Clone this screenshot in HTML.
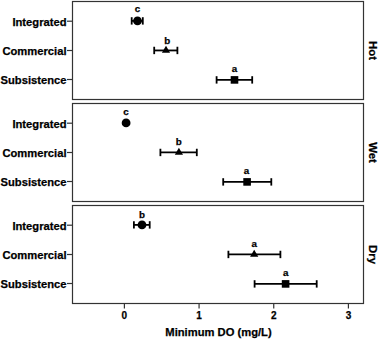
<!DOCTYPE html><html><head><meta charset="utf-8"><style>html,body{margin:0;padding:0;background:#fff;width:378px;height:339px;overflow:hidden;position:relative}</style></head><body>
<svg width="378" height="339" viewBox="0 0 378 339" style="position:absolute;left:0;top:0">
<rect x="72.5" y="1.5" width="291.0" height="98.0" fill="none" stroke="#333" stroke-width="1.2"/>
<line x1="67" y1="21.2" x2="72.5" y2="21.2" stroke="#333" stroke-width="1.2"/>
<text x="66.5" y="25.5" text-anchor="end" font-size="11.2" font-family="Liberation Sans, sans-serif" font-weight="bold" stroke="#000" stroke-width="0.25" fill="#000">Integrated</text>
<line x1="67" y1="50.5" x2="72.5" y2="50.5" stroke="#333" stroke-width="1.2"/>
<text x="66.5" y="54.8" text-anchor="end" font-size="11.2" font-family="Liberation Sans, sans-serif" font-weight="bold" stroke="#000" stroke-width="0.25" fill="#000">Commercial</text>
<line x1="67" y1="79.5" x2="72.5" y2="79.5" stroke="#333" stroke-width="1.2"/>
<text x="66.5" y="83.8" text-anchor="end" font-size="11.2" font-family="Liberation Sans, sans-serif" font-weight="bold" stroke="#000" stroke-width="0.25" fill="#000">Subsistence</text>
<text transform="translate(368.6 50.5) rotate(90)" x="0" y="0" text-anchor="middle" font-size="11.4" font-family="Liberation Sans, sans-serif" font-weight="bold" stroke="#000" stroke-width="0.25" fill="#000">Hot</text>
<rect x="72.5" y="103.5" width="291.0" height="98.0" fill="none" stroke="#333" stroke-width="1.2"/>
<line x1="67" y1="123.2" x2="72.5" y2="123.2" stroke="#333" stroke-width="1.2"/>
<text x="66.5" y="127.5" text-anchor="end" font-size="11.2" font-family="Liberation Sans, sans-serif" font-weight="bold" stroke="#000" stroke-width="0.25" fill="#000">Integrated</text>
<line x1="67" y1="152.5" x2="72.5" y2="152.5" stroke="#333" stroke-width="1.2"/>
<text x="66.5" y="156.8" text-anchor="end" font-size="11.2" font-family="Liberation Sans, sans-serif" font-weight="bold" stroke="#000" stroke-width="0.25" fill="#000">Commercial</text>
<line x1="67" y1="181.5" x2="72.5" y2="181.5" stroke="#333" stroke-width="1.2"/>
<text x="66.5" y="185.8" text-anchor="end" font-size="11.2" font-family="Liberation Sans, sans-serif" font-weight="bold" stroke="#000" stroke-width="0.25" fill="#000">Subsistence</text>
<text transform="translate(368.6 152.5) rotate(90)" x="0" y="0" text-anchor="middle" font-size="11.4" font-family="Liberation Sans, sans-serif" font-weight="bold" stroke="#000" stroke-width="0.25" fill="#000">Wet</text>
<rect x="72.5" y="205.5" width="291.0" height="98.0" fill="none" stroke="#333" stroke-width="1.2"/>
<line x1="67" y1="225.2" x2="72.5" y2="225.2" stroke="#333" stroke-width="1.2"/>
<text x="66.5" y="229.5" text-anchor="end" font-size="11.2" font-family="Liberation Sans, sans-serif" font-weight="bold" stroke="#000" stroke-width="0.25" fill="#000">Integrated</text>
<line x1="67" y1="254.5" x2="72.5" y2="254.5" stroke="#333" stroke-width="1.2"/>
<text x="66.5" y="258.8" text-anchor="end" font-size="11.2" font-family="Liberation Sans, sans-serif" font-weight="bold" stroke="#000" stroke-width="0.25" fill="#000">Commercial</text>
<line x1="67" y1="283.5" x2="72.5" y2="283.5" stroke="#333" stroke-width="1.2"/>
<text x="66.5" y="287.8" text-anchor="end" font-size="11.2" font-family="Liberation Sans, sans-serif" font-weight="bold" stroke="#000" stroke-width="0.25" fill="#000">Subsistence</text>
<text transform="translate(368.6 254.5) rotate(90)" x="0" y="0" text-anchor="middle" font-size="11.4" font-family="Liberation Sans, sans-serif" font-weight="bold" stroke="#000" stroke-width="0.25" fill="#000">Dry</text>
<line x1="131.7" y1="20.9" x2="142.8" y2="20.9" stroke="#000" stroke-width="1.8"/>
<line x1="131.7" y1="17.2" x2="131.7" y2="24.599999999999998" stroke="#000" stroke-width="1.8"/>
<line x1="142.8" y1="17.2" x2="142.8" y2="24.599999999999998" stroke="#000" stroke-width="1.8"/>
<circle cx="137.5" cy="20.9" r="4.4" fill="#000"/>
<text x="137.5" y="12.200000000000001" text-anchor="middle" font-size="9.8" font-family="Liberation Sans, sans-serif" font-weight="bold" stroke="#000" stroke-width="0.25" fill="#000">c</text>
<line x1="154.2" y1="50.45" x2="177.4" y2="50.45" stroke="#000" stroke-width="1.8"/>
<line x1="154.2" y1="46.75" x2="154.2" y2="54.150000000000006" stroke="#000" stroke-width="1.8"/>
<line x1="177.4" y1="46.75" x2="177.4" y2="54.150000000000006" stroke="#000" stroke-width="1.8"/>
<polygon points="161.9,52.75 170.1,52.75 166.0,45.85" fill="#000"/>
<text x="167.2" y="43.599999999999994" text-anchor="middle" font-size="9.8" font-family="Liberation Sans, sans-serif" font-weight="bold" stroke="#000" stroke-width="0.25" fill="#000">b</text>
<line x1="216.6" y1="79.9" x2="252.2" y2="79.9" stroke="#000" stroke-width="1.8"/>
<line x1="216.6" y1="76.2" x2="216.6" y2="83.60000000000001" stroke="#000" stroke-width="1.8"/>
<line x1="252.2" y1="76.2" x2="252.2" y2="83.60000000000001" stroke="#000" stroke-width="1.8"/>
<rect x="230.7" y="76.10000000000001" width="7.6" height="7.6" fill="#000"/>
<text x="234.6" y="71.6" text-anchor="middle" font-size="9.8" font-family="Liberation Sans, sans-serif" font-weight="bold" stroke="#000" stroke-width="0.25" fill="#000">a</text>
<circle cx="126.1" cy="122.9" r="4.4" fill="#000"/>
<text x="125.9" y="114.89999999999999" text-anchor="middle" font-size="9.8" font-family="Liberation Sans, sans-serif" font-weight="bold" stroke="#000" stroke-width="0.25" fill="#000">c</text>
<line x1="160.4" y1="152.45" x2="196.8" y2="152.45" stroke="#000" stroke-width="1.8"/>
<line x1="160.4" y1="148.75" x2="160.4" y2="156.14999999999998" stroke="#000" stroke-width="1.8"/>
<line x1="196.8" y1="148.75" x2="196.8" y2="156.14999999999998" stroke="#000" stroke-width="1.8"/>
<polygon points="174.8,154.75 183.0,154.75 178.9,147.85" fill="#000"/>
<text x="178.8" y="144.60000000000002" text-anchor="middle" font-size="9.8" font-family="Liberation Sans, sans-serif" font-weight="bold" stroke="#000" stroke-width="0.25" fill="#000">b</text>
<line x1="223.2" y1="181.9" x2="271.3" y2="181.9" stroke="#000" stroke-width="1.8"/>
<line x1="223.2" y1="178.20000000000002" x2="223.2" y2="185.6" stroke="#000" stroke-width="1.8"/>
<line x1="271.3" y1="178.20000000000002" x2="271.3" y2="185.6" stroke="#000" stroke-width="1.8"/>
<rect x="243.29999999999998" y="178.1" width="7.6" height="7.6" fill="#000"/>
<text x="246.5" y="174.20000000000002" text-anchor="middle" font-size="9.8" font-family="Liberation Sans, sans-serif" font-weight="bold" stroke="#000" stroke-width="0.25" fill="#000">a</text>
<line x1="133.9" y1="224.9" x2="149.7" y2="224.9" stroke="#000" stroke-width="1.8"/>
<line x1="133.9" y1="221.20000000000002" x2="133.9" y2="228.6" stroke="#000" stroke-width="1.8"/>
<line x1="149.7" y1="221.20000000000002" x2="149.7" y2="228.6" stroke="#000" stroke-width="1.8"/>
<circle cx="142.0" cy="224.9" r="4.4" fill="#000"/>
<text x="142.0" y="218.0" text-anchor="middle" font-size="9.8" font-family="Liberation Sans, sans-serif" font-weight="bold" stroke="#000" stroke-width="0.25" fill="#000">b</text>
<line x1="228.4" y1="254.45" x2="280.4" y2="254.45" stroke="#000" stroke-width="1.8"/>
<line x1="228.4" y1="250.75" x2="228.4" y2="258.15" stroke="#000" stroke-width="1.8"/>
<line x1="280.4" y1="250.75" x2="280.4" y2="258.15" stroke="#000" stroke-width="1.8"/>
<polygon points="250.1,256.75 258.3,256.75 254.2,249.85" fill="#000"/>
<text x="254.2" y="246.60000000000002" text-anchor="middle" font-size="9.8" font-family="Liberation Sans, sans-serif" font-weight="bold" stroke="#000" stroke-width="0.25" fill="#000">a</text>
<line x1="254.6" y1="283.9" x2="316.7" y2="283.9" stroke="#000" stroke-width="1.8"/>
<line x1="254.6" y1="280.2" x2="254.6" y2="287.59999999999997" stroke="#000" stroke-width="1.8"/>
<line x1="316.7" y1="280.2" x2="316.7" y2="287.59999999999997" stroke="#000" stroke-width="1.8"/>
<rect x="281.8" y="280.09999999999997" width="7.6" height="7.6" fill="#000"/>
<text x="285.8" y="275.6" text-anchor="middle" font-size="9.8" font-family="Liberation Sans, sans-serif" font-weight="bold" stroke="#000" stroke-width="0.25" fill="#000">a</text>
<line x1="124.4" y1="303.5" x2="124.4" y2="308.5" stroke="#333" stroke-width="1.2"/>
<text x="124.4" y="318.8" text-anchor="middle" font-size="10" font-family="Liberation Sans, sans-serif" font-weight="bold" stroke="#000" stroke-width="0.25" fill="#000">0</text>
<line x1="199.07" y1="303.5" x2="199.07" y2="308.5" stroke="#333" stroke-width="1.2"/>
<text x="199.07" y="318.8" text-anchor="middle" font-size="10" font-family="Liberation Sans, sans-serif" font-weight="bold" stroke="#000" stroke-width="0.25" fill="#000">1</text>
<line x1="273.74" y1="303.5" x2="273.74" y2="308.5" stroke="#333" stroke-width="1.2"/>
<text x="273.74" y="318.8" text-anchor="middle" font-size="10" font-family="Liberation Sans, sans-serif" font-weight="bold" stroke="#000" stroke-width="0.25" fill="#000">2</text>
<line x1="348.40999999999997" y1="303.5" x2="348.40999999999997" y2="308.5" stroke="#333" stroke-width="1.2"/>
<text x="348.40999999999997" y="318.8" text-anchor="middle" font-size="10" font-family="Liberation Sans, sans-serif" font-weight="bold" stroke="#000" stroke-width="0.25" fill="#000">3</text>
<text x="218.5" y="335.7" text-anchor="middle" font-size="11.2" font-family="Liberation Sans, sans-serif" font-weight="bold" stroke="#000" stroke-width="0.25" fill="#000">Minimum DO (mg/L)</text>
</svg>
</body></html>
